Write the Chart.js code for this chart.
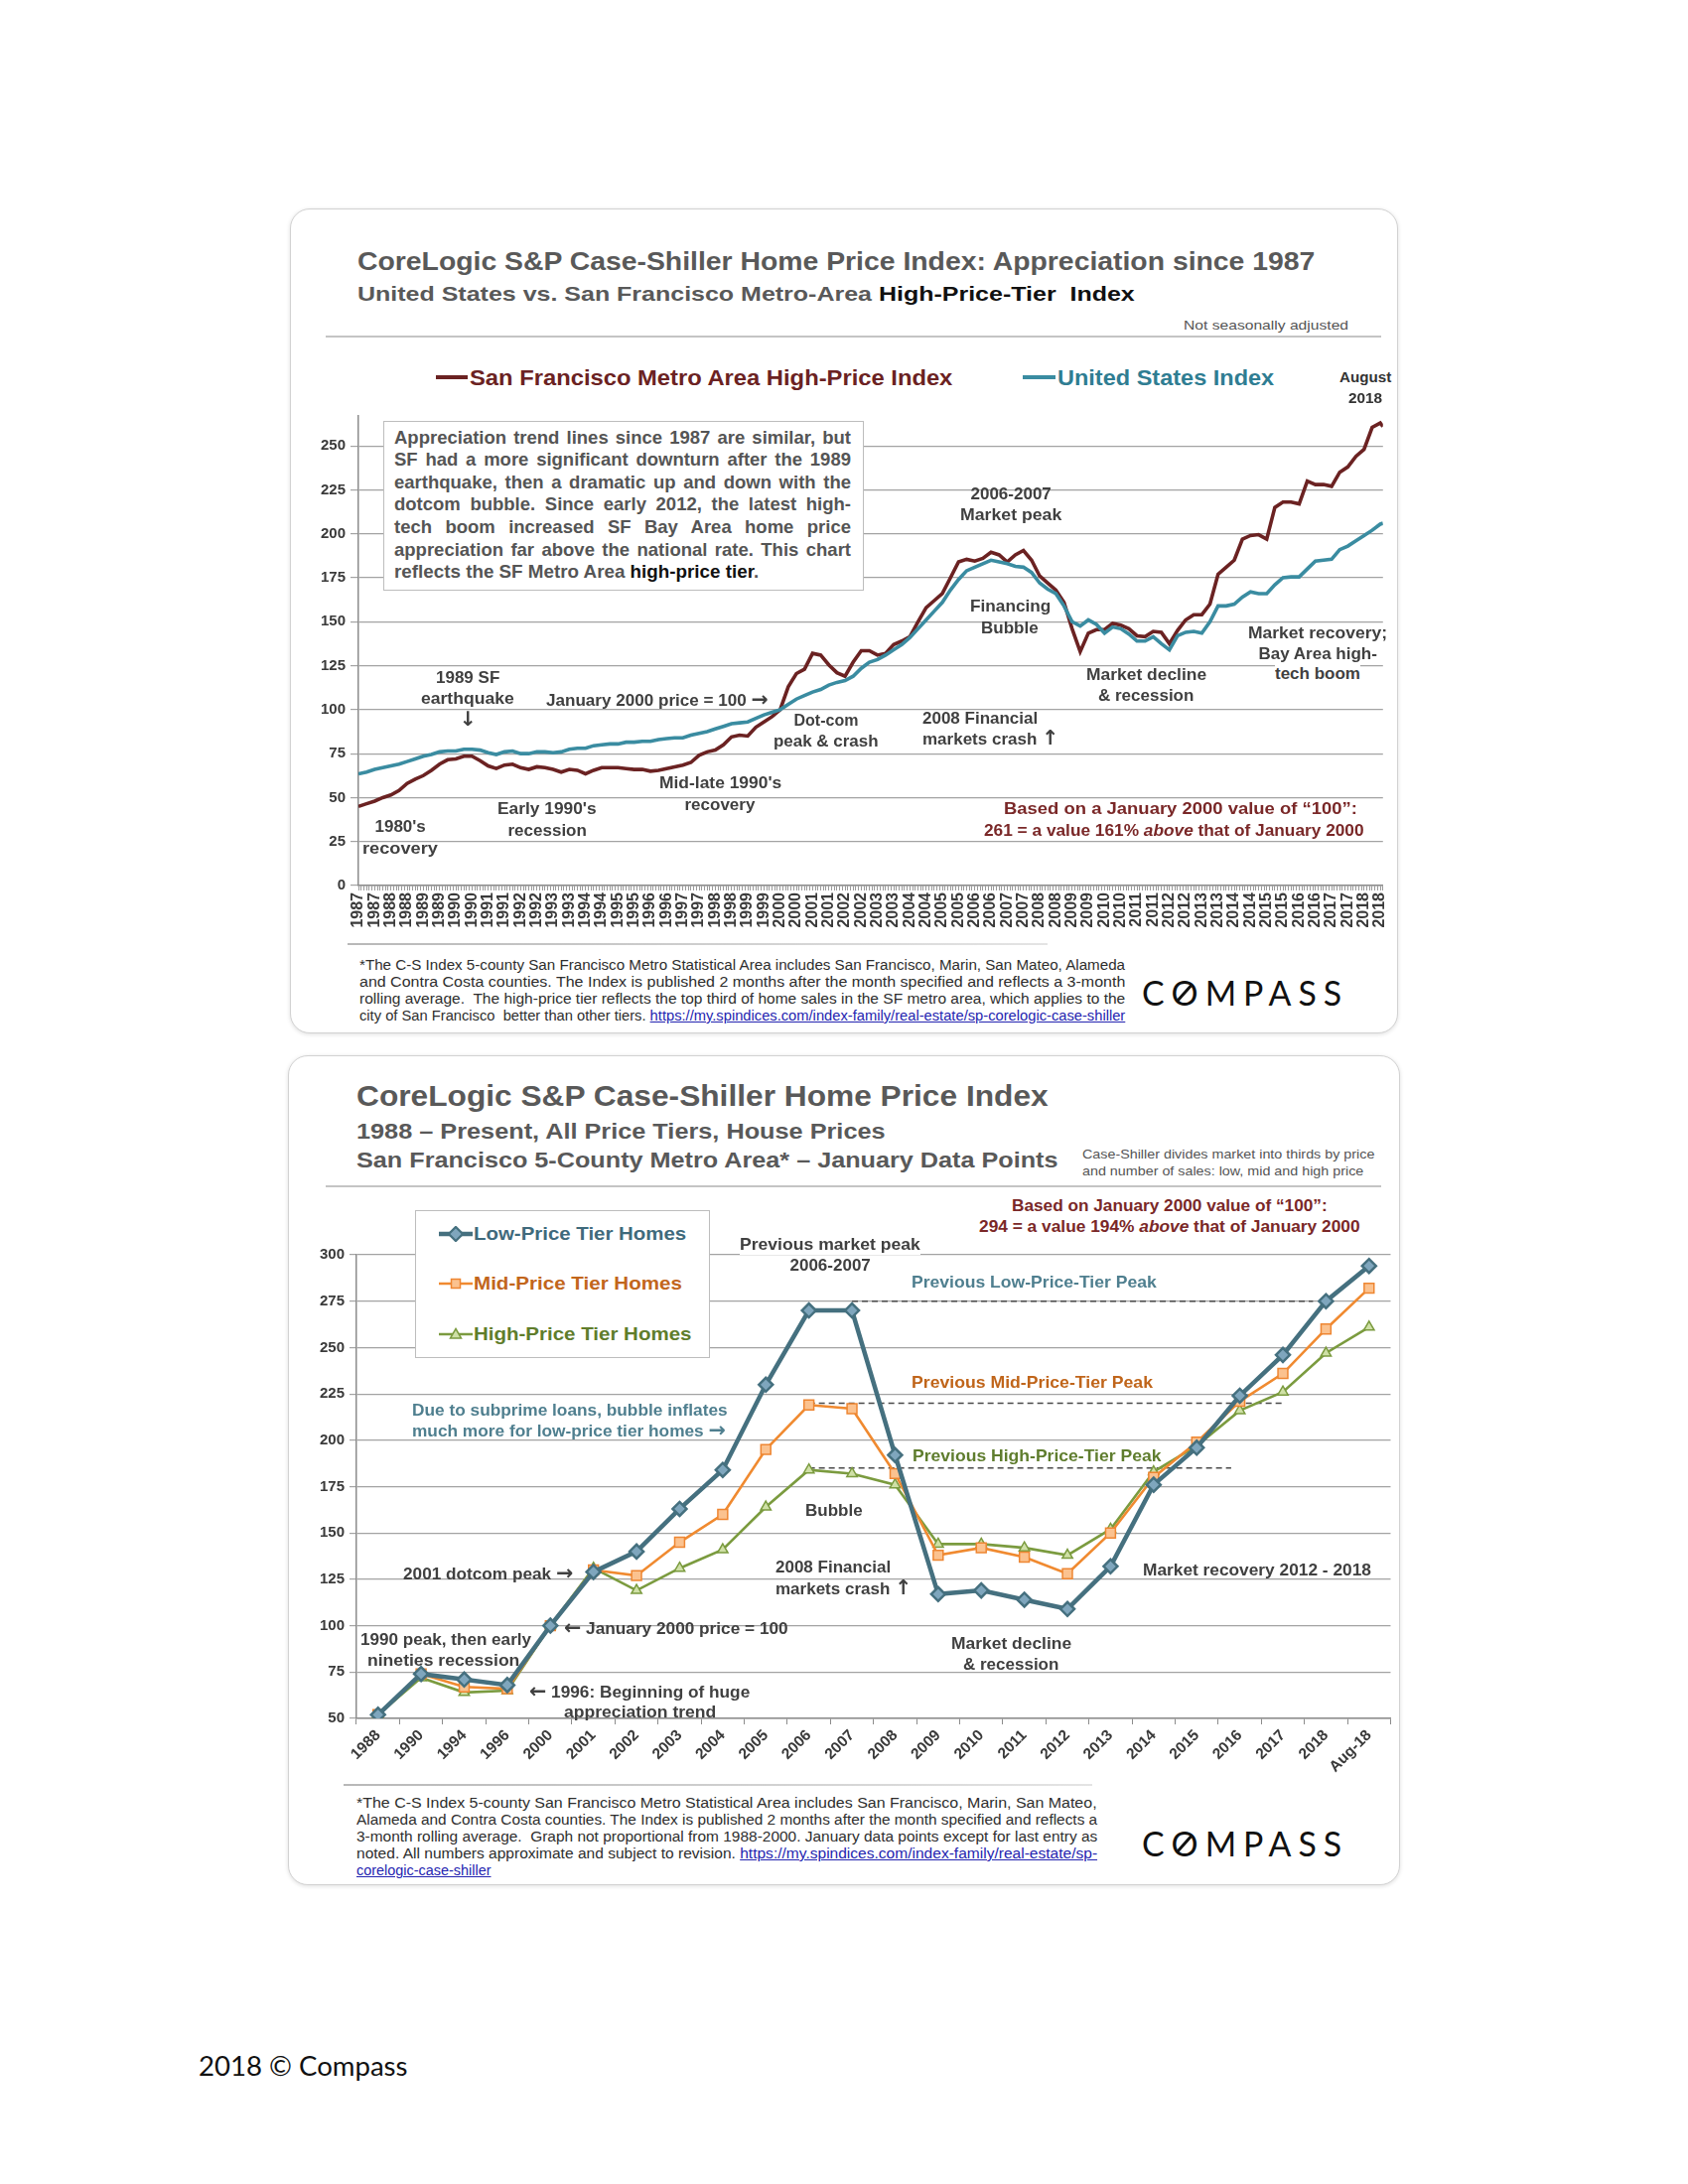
<!DOCTYPE html>
<html><head><meta charset="utf-8">
<script src="https://cdn.jsdelivr.net/npm/chart.js@4.4.1/dist/chart.umd.min.js"></script>
<style>
html,body{margin:0;padding:0;background:#fff;}
body{width:1700px;height:2200px;position:relative;overflow:hidden;font-family:"Liberation Sans",Arial,sans-serif;}
.panel{position:absolute;background:#fff;border:1.5px solid #d2d2d2;border-radius:20px;box-shadow:0 1px 4px rgba(0,0,0,0.13);box-sizing:border-box;}
canvas{position:absolute;z-index:1;}
.t{position:absolute;left:0;top:0;white-space:nowrap;line-height:1.15;font-weight:bold;color:#404040;font-size:17px;z-index:3;}
.title{color:#595959;font-size:26px;}
.sub{color:#595959;font-size:21px;}
.small{font-weight:normal;color:#555;font-size:13px;font-family:"Liberation Sans Narrow","Liberation Sans",sans-serif;}
.foot{font-weight:normal;color:#2e2e2e;font-size:14px;font-family:"Liberation Sans Narrow","Liberation Sans",sans-serif;}
.lnk{color:#2424b0;text-decoration:underline;}
.rule{position:absolute;height:2px;background:#c4c4c4;z-index:2;}
.box{position:absolute;background:#fff;border:1.2px solid #bdbdbd;box-sizing:border-box;z-index:2;}
.seg{position:absolute;height:4px;z-index:3;}
.logo{font-family:Lato,"Open Sans",sans-serif;font-weight:400;font-size:34px;letter-spacing:7px;color:#111;}
.logo .o{position:relative;display:inline-block;letter-spacing:0;margin-right:7px;}
.logo .o::after{content:"";position:absolute;left:50%;top:52%;width:2.6px;height:0.66em;background:#111;transform:translate(-50%,-50%) rotate(42deg);}
.tb{font-size:18.5px;color:#555;}
.maroon{color:#7a2828;}
.wbg{background:#fff;}
.ar{font-family:"DejaVu Sans",sans-serif;font-weight:bold;font-size:1.2em;line-height:1;}
</style>
</head>
<body>

<!-- ===== TOP PANEL ===== -->
<div class="panel" style="left:292px;top:210px;width:1116px;height:831px;"></div>
<div class="t title" data-x="360" data-y="264" data-a="l" data-w="964">CoreLogic S&amp;P Case-Shiller Home Price Index: Appreciation since 1987</div>
<div class="t sub" data-x="360" data-y="296" data-a="l" data-w="783">United States vs. San Francisco Metro-Area <span style="color:#111">High-Price-Tier&nbsp; Index</span></div>
<div class="rule" style="left:328px;top:338px;width:1063px;"></div>
<div class="t small" data-x="1358" data-y="328" data-a="r" data-w="166">Not seasonally adjusted</div>

<div class="seg" style="left:439px;top:378px;width:32px;background:#6b2222;"></div>
<div class="t" style="color:#6b2222;font-size:22px;" data-x="473" data-y="380" data-a="l" data-w="486">San Francisco Metro Area High-Price Index</div>
<div class="seg" style="left:1030px;top:378px;width:33px;background:#3a8ca1;"></div>
<div class="t" style="color:#2f7d92;font-size:22px;" data-x="1065" data-y="380" data-a="l" data-w="218">United States Index</div>
<div class="t" style="font-size:14px;color:#333;" data-x="1375" data-y="380" data-w="52">August</div>
<div class="t" style="font-size:14px;color:#333;" data-x="1375" data-y="401" data-w="34">2018</div>

<canvas id="topChart" width="1114" height="537" style="left:300px;top:405px;"></canvas>

<div class="box" style="left:386px;top:424px;width:484px;height:171px;"></div>
<div class="t tb" data-x="397" data-y="440" data-a="l" data-j="460">Appreciation trend lines since 1987 are similar, but</div>
<div class="t tb" data-x="397" data-y="462.6" data-a="l" data-j="460">SF had a more significant downturn after the 1989</div>
<div class="t tb" data-x="397" data-y="485.2" data-a="l" data-j="460">earthquake, then a dramatic up and down with the</div>
<div class="t tb" data-x="397" data-y="507.8" data-a="l" data-j="460">dotcom bubble. Since early 2012, the latest high-</div>
<div class="t tb" data-x="397" data-y="530.4" data-a="l" data-j="460">tech boom increased SF Bay Area home price</div>
<div class="t tb" data-x="397" data-y="553" data-a="l" data-j="460">appreciation far above the national rate. This chart</div>
<div class="t tb" data-x="397" data-y="575.6" data-a="l" data-w="367">reflects the SF Metro Area <span style="color:#111">high-price tier</span>.</div>

<div class="t" data-x="471" data-y="683">1989 SF</div>
<div class="t" data-x="471" data-y="704" data-w="94">earthquake</div>
<div class="t" data-x="471" data-y="725"><span class="ar">&#8595;</span></div>
<div class="t" data-x="662" data-y="705" data-w="224">January 2000 price = 100 <span class="ar">&#8594;</span></div>
<div class="t" data-x="832" data-y="726" style="font-size:16px;">Dot-com</div>
<div class="t" data-x="832" data-y="747" data-w="106" style="font-size:16px;">peak &amp; crash</div>
<div class="t" data-x="929" data-y="724" data-a="l">2008 Financial</div>
<div class="t" data-x="929" data-y="744" data-a="l" data-w="137">markets crash <span class="ar">&#8593;</span></div>
<div class="t" data-x="403" data-y="833">1980's</div>
<div class="t" data-x="403" data-y="855" data-w="76">recovery</div>
<div class="t" data-x="551" data-y="815" data-w="100">Early 1990's</div>
<div class="t" data-x="551" data-y="837">recession</div>
<div class="t" data-x="725" data-y="789" data-w="123">Mid-late 1990's</div>
<div class="t" data-x="725" data-y="811">recovery</div>
<div class="t" data-x="1018" data-y="498">2006-2007</div>
<div class="t" data-x="1018" data-y="519" data-w="102">Market peak</div>
<div class="t" data-x="1017" data-y="611" data-w="81">Financing</div>
<div class="t" data-x="1017" data-y="633">Bubble</div>
<div class="t" data-x="1154" data-y="680" data-w="121">Market decline</div>
<div class="t" data-x="1154" data-y="701">&amp; recession</div>
<div class="t wbg" data-x="1327" data-y="638" data-w="140">Market recovery;</div>
<div class="t wbg" data-x="1327" data-y="659">Bay Area high-</div>
<div class="t wbg" data-x="1327" data-y="679">tech boom</div>
<div class="t maroon" data-x="1189" data-y="815" data-w="356">Based on a January 2000 value of &#8220;100&#8221;:</div>
<div class="t maroon" data-x="1182" data-y="837" data-w="383">261 = a value 161% <i>above</i> that of January 2000</div>

<div class="rule" style="left:350px;top:950px;width:705px;background:linear-gradient(90deg,#b8b8b8,#e4e4e4);"></div>
<div class="t foot" data-x="362" data-y="972" data-a="l" data-w="771">*The C-S Index 5-county San Francisco Metro Statistical Area includes San Francisco, Marin, San Mateo, Alameda</div>
<div class="t foot" data-x="362" data-y="989" data-a="l" data-w="771">and Contra Costa counties. The Index is published 2 months after the month specified and reflects a 3-month</div>
<div class="t foot" data-x="362" data-y="1006" data-a="l" data-w="771">rolling average.&nbsp; The high-price tier reflects the top third of home sales in the SF metro area, which applies to the</div>
<div class="t foot" data-x="362" data-y="1023" data-a="l" data-w="771">city of San Francisco&nbsp; better than other tiers. <span class="lnk">https://my.spindices.com/index-family/real-estate/sp-corelogic-case-shiller</span></div>
<div class="t logo" data-x="1150" data-y="999" data-a="l" data-w="208">C<span class="o">O</span>MPASS</div>

<!-- ===== BOTTOM PANEL ===== -->
<div class="panel" style="left:290px;top:1063px;width:1120px;height:836px;"></div>
<div class="t title" style="font-size:30px;" data-x="359" data-y="1104" data-a="l" data-w="697">CoreLogic S&amp;P Case-Shiller Home Price Index</div>
<div class="t sub" style="font-size:22px;" data-x="359" data-y="1139" data-a="l" data-w="532">1988 &#8211; Present, All Price Tiers, House Prices</div>
<div class="t sub" style="font-size:22px;" data-x="359" data-y="1168" data-a="l" data-w="707">San Francisco 5-County Metro Area* &#8211; January Data Points</div>
<div class="t small" data-x="1090" data-y="1163" data-a="l" data-w="294">Case-Shiller divides market into thirds by price</div>
<div class="t small" data-x="1090" data-y="1180" data-a="l" data-w="283">and number of sales: low, mid and high price</div>
<div class="rule" style="left:328px;top:1194px;width:1063px;"></div>
<div class="t maroon" data-x="1178" data-y="1215" data-w="318">Based on January 2000 value of &#8220;100&#8221;:</div>
<div class="t maroon" data-x="1178" data-y="1236" data-w="384">294 = a value 194% <i>above</i> that of January 2000</div>

<canvas id="botChart" width="1110" height="539" style="left:300px;top:1250px;"></canvas>

<div class="box" style="left:418px;top:1219px;width:297px;height:149px;"></div>
<svg style="position:absolute;left:442px;top:1235px;z-index:3" width="34" height="16"><line x1="0" y1="8" x2="34" y2="8" stroke="#45707f" stroke-width="4.5"/><rect x="12" y="3" width="10" height="10" transform="rotate(45 17 8)" fill="#7fa6bd" stroke="#45707f" stroke-width="2.2"/></svg>
<div class="t" style="font-size:19px;color:#3f6a7c;" data-x="477" data-y="1243" data-a="l" data-w="214">Low-Price Tier Homes</div>
<svg style="position:absolute;left:442px;top:1285px;z-index:3" width="34" height="16"><line x1="0" y1="8" x2="34" y2="8" stroke="#f08a30" stroke-width="2.5"/><rect x="12.5" y="3.5" width="9" height="9" fill="#fbc28f" stroke="#ee8632" stroke-width="1.5"/></svg>
<div class="t" style="font-size:19px;color:#c2661c;" data-x="477" data-y="1293" data-a="l" data-w="210">Mid-Price Tier Homes</div>
<svg style="position:absolute;left:442px;top:1336px;z-index:3" width="34" height="16"><line x1="0" y1="8" x2="34" y2="8" stroke="#7b9b3f" stroke-width="2.5"/><polygon points="17,2.5 22.5,12 11.5,12" fill="#cfe0a6" stroke="#7b9b3f" stroke-width="1.5"/></svg>
<div class="t" style="font-size:19px;color:#5f7d2c;" data-x="477" data-y="1344" data-a="l" data-w="219">High-Price Tier Homes</div>

<div class="t wbg" data-x="836" data-y="1254" data-w="182">Previous market peak</div>
<div class="t" data-x="836" data-y="1275">2006-2007</div>
<div class="t" style="color:#4f7f8f;" data-x="1041" data-y="1292" data-w="247">Previous Low-Price-Tier Peak</div>
<div class="t" style="color:#c0651a;" data-x="1039" data-y="1393" data-w="243">Previous Mid-Price-Tier Peak</div>
<div class="t" style="color:#5f7d2e;" data-x="1044" data-y="1467" data-w="251">Previous High-Price-Tier Peak</div>
<div class="t" style="color:#4f7f8f;" data-x="415" data-y="1421" data-a="l" data-w="318">Due to subprime loans, bubble inflates</div>
<div class="t" style="color:#4f7f8f;" data-x="415" data-y="1441" data-a="l" data-w="316">much more for low-price tier homes <span class="ar">&#8594;</span></div>
<div class="t" data-x="840" data-y="1522">Bubble</div>
<div class="t" data-x="491" data-y="1585" data-w="171">2001 dotcom peak <span class="ar">&#8594;</span></div>
<div class="t" data-x="781" data-y="1579" data-a="l">2008 Financial</div>
<div class="t" data-x="781" data-y="1600" data-a="l" data-w="137">markets crash <span class="ar">&#8593;</span></div>
<div class="t" data-x="1266" data-y="1582" data-w="230">Market recovery 2012 - 2018</div>
<div class="t" data-x="568" data-y="1640" data-a="l" data-w="226"><span class="ar">&#8592;</span> January 2000 price = 100</div>
<div class="t" data-x="449" data-y="1652" data-w="172">1990 peak, then early</div>
<div class="t" data-x="446" data-y="1673" data-w="153">nineties recession</div>
<div class="t" data-x="1018" data-y="1656" data-w="121">Market decline</div>
<div class="t" data-x="1018" data-y="1677">&amp; recession</div>
<div class="t" data-x="533" data-y="1704" data-a="l" data-w="222"><span class="ar">&#8592;</span> 1996: Beginning of huge</div>
<div class="t" data-x="644" data-y="1725" data-w="153">appreciation trend</div>

<div class="rule" style="left:346px;top:1797px;width:754px;background:linear-gradient(90deg,#b8b8b8,#e4e4e4);"></div>
<div class="t foot" data-x="359" data-y="1816" data-a="l" data-w="746">*The C-S Index 5-county San Francisco Metro Statistical Area includes San Francisco, Marin, San Mateo,</div>
<div class="t foot" data-x="359" data-y="1833" data-a="l" data-w="746">Alameda and Contra Costa counties. The Index is published 2 months after the month specified and reflects a</div>
<div class="t foot" data-x="359" data-y="1850" data-a="l" data-w="746">3-month rolling average.&nbsp; Graph not proportional from 1988-2000. January data points except for last entry as</div>
<div class="t foot" data-x="359" data-y="1867" data-a="l" data-w="746">noted. All numbers approximate and subject to revision. <span class="lnk">https://my.spindices.com/index-family/real-estate/sp-</span></div>
<div class="t foot" data-x="359" data-y="1884" data-a="l" data-w="136"><span class="lnk">corelogic-case-shiller</span></div>
<div class="t logo" data-x="1150" data-y="1856" data-a="l" data-w="208">C<span class="o">O</span>MPASS</div>

<div class="t" style="font-family:Lato,'Open Sans',sans-serif;font-weight:400;font-size:26px;color:#111;" data-x="200" data-y="2082" data-a="l" data-w="211">2018 &#169; Compass</div>

<script>
// ---------- DATA: top chart (monthly index, sampled quarterly) ----------
const topDates = [
'1987-01','1987-04','1987-07','1987-10','1988-01','1988-04','1988-07','1988-10',
'1989-01','1989-04','1989-07','1989-10','1990-01','1990-04','1990-07','1990-10',
'1991-01','1991-04','1991-07','1991-10','1992-01','1992-04','1992-07','1992-10',
'1993-01','1993-04','1993-07','1993-10','1994-01','1994-04','1994-07','1994-10',
'1995-01','1995-04','1995-07','1995-10','1996-01','1996-04','1996-07','1996-10',
'1997-01','1997-04','1997-07','1997-10','1998-01','1998-04','1998-07','1998-10',
'1999-01','1999-04','1999-07','1999-10','2000-01','2000-04','2000-07','2000-10',
'2001-01','2001-04','2001-07','2001-10','2002-01','2002-04','2002-07','2002-10',
'2003-01','2003-04','2003-07','2003-10','2004-01','2004-04','2004-07','2004-10',
'2005-01','2005-04','2005-07','2005-10','2006-01','2006-04','2006-07','2006-10',
'2007-01','2007-04','2007-07','2007-10','2008-01','2008-04','2008-07','2008-10',
'2009-01','2009-04','2009-07','2009-10','2010-01','2010-04','2010-07','2010-10',
'2011-01','2011-04','2011-07','2011-10','2012-01','2012-04','2012-07','2012-10',
'2013-01','2013-04','2013-07','2013-10','2014-01','2014-04','2014-07','2014-10',
'2015-01','2015-04','2015-07','2015-10','2016-01','2016-04','2016-07','2016-10',
'2017-01','2017-04','2017-07','2017-10','2018-01','2018-04','2018-07','2018-08'
];
const sfValues = [
45,46.5,48,50,51.5,54,58,60.5,62.5,65.5,
69,71.5,72,73.5,73.5,71,68,66.5,68.5,69,
67,66,67.5,67,66,64.5,66,65.5,63.5,65.5,
67,67,67,66.5,66,66,65,65.5,66.5,67.5,
68.5,70,74,76,77,80,84.5,85.5,85,90,
93,96,100,113,120.5,123,132,131,125.5,121,
119,127,133.5,133.5,131,132,137,139,141.5,150,
158,162,166,175,184,185.5,184.5,186,189.5,188,
184,188,190.5,185,176,172,168,161,146,133,
143.5,145.5,145.5,149,148,146,142,141.5,144.5,144,
137.5,145,151,154,154,160,177,181,185,197,
199,199.5,197,215,218,218,217,230,228,228,
227,235,238,244,248,260.5,263,261
];
const usValues = [
63.5,64.5,66,67,68,69,70.5,72,73.5,74.5,
76,76.5,76.5,77.5,77.5,77,75.5,74.5,76,76.5,
75,75,76,76,75.5,76,77.5,78,78,79.5,
80,80.5,80.5,81.5,81.5,82,82,83,83.5,84,
84,85.5,86.5,87.5,89,90.5,92,92.5,93,95,
97,98.5,100,103,106,108,110,111.5,114,115.5,
116.5,119,123.5,127,128.5,131,134,137,141,146,
151,156,161,168,174,179,181,183,185,184,
183,181.5,181,178,172,168.5,166,159,150,147.5,
151,148.5,143.5,147,146,143,139,139,141.5,137.5,
134,142,144,144.5,143.5,150,159,159,160,164,
167,166,166,171,175,175.5,175.5,180,184.5,185,
185.5,191,193,196,199,202,205.5,206
];
const topTickLabels = [
'1987','1987','1988','1988','1989','1989','1990','1990','1991','1991','1992','1992',
'1993','1993','1994','1994','1995','1995','1996','1996','1997','1997','1998','1998',
'1999','1999','2000','2000','2001','2001','2002','2002','2003','2003','2004','2004',
'2005','2005','2006','2006','2007','2007','2008','2008','2009','2009','2010','2010',
'2011','2011','2012','2012','2013','2013','2014','2014','2015','2015','2016','2016',
'2017','2017','2018','2018'
];

// ---------- DATA: bottom chart (January data points) ----------
const categories = ['1988','1990','1994','1996','2000','2001','2002','2003','2004','2005','2006','2007','2008','2009','2010','2011','2012','2013','2014','2015','2016','2017','2018','Aug-18'];
const lowValues  = [52,74,71,68,100,129,140,163,184,230,270,270,192,117,119,114,109,132,176,196,224,246,275,294];
const midValues  = [52,74,67,66,100,130,127,145,160,195,219,217,182,138,142,137,128,150,180,199,221,236,260,282];
const highValues = [52,72,64,65,100,131,119,131,141,164,184,182,176,144,144,142,138,152,183,197,216,226,247,261];
// previous-peak reference levels and their spans (in category positions)
const peakLevels = [275, 220, 185];
const peakStart  = [11, 10, 10];
const peakEnd    = [21.7, 21, 19.8];

// ---------- text placement ----------
function placeAll(){
  document.querySelectorAll('[data-x]').forEach(el=>{
    const x=+el.dataset.x, y=+el.dataset.y, a=el.dataset.a||'c';
    const w=el.dataset.w?+el.dataset.w:0, j=el.dataset.j?+el.dataset.j:0;
    const nw=el.offsetWidth, nh=el.offsetHeight;
    let s=1, ew=nw;
    if(j){
      if(nw<=j){el.style.whiteSpace='normal';el.style.width=(j)+'px';el.style.textAlign='justify';el.style.textAlignLast='justify';ew=j;}
      else {s=j/nw;ew=j;}
    } else if(w){ s=w/nw; ew=w; }
    const left=a==='l'?x:(a==='r'?x-ew:x-ew/2);
    el.style.left=left+'px'; el.style.top=(y-nh/2)+'px';
    if(s!==1){el.style.transformOrigin='0 0';el.style.transform='scaleX('+s+')';}
  });
}
placeAll();

// ---------- charts ----------
const FONT = '"Liberation Sans", Arial, sans-serif';
const AX = '#8c8c8c', GRID = '#a3a3a3', TXT = '#3a3a3a';
function monthIndex(d){const p=d.split('-').map(Number);return (p[0]-1987)*12+(p[1]-1);}
const sfPts = topDates.map((d,i)=>({x:monthIndex(d),y:sfValues[i]}));
const usPts = topDates.map((d,i)=>({x:monthIndex(d),y:usValues[i]}));

new Chart(document.getElementById('topChart'),{
  type:'line',
  data:{datasets:[
    {label:'San Francisco Metro Area High-Price Index',data:sfPts,borderColor:'#6b2222',borderWidth:3.6,pointRadius:0,tension:0,order:1},
    {label:'United States Index',data:usPts,borderColor:'#3a8ca1',borderWidth:3.6,pointRadius:0,tension:0,order:0}
  ]},
  options:{
    responsive:false,animation:false,devicePixelRatio:1,events:[],
    layout:{padding:{top:10,right:14,left:0,bottom:0}},
    plugins:{legend:{display:false},tooltip:{enabled:false}},
    scales:{
      x:{type:'linear',min:0,max:379,
        ticks:{stepSize:1,autoSkip:false,maxTicksLimit:500,minRotation:90,maxRotation:90,padding:2,color:TXT,
          font:{family:FONT,size:16,weight:'bold'},
          callback:(v)=>{const r=Math.round(v);return r%6===0?(topTickLabels[r/6]||''):'';}},
        grid:{drawOnChartArea:false,drawTicks:true,tickLength:5,color:'#9a9a9a'},
        border:{display:true,color:AX,width:1.5},
        afterFit:s=>{s.height=50;}},
      y:{min:0,max:267,
        afterBuildTicks:s=>{s.ticks=s.ticks.filter(t=>Math.abs(t.value%25)<1e-6);},
        ticks:{stepSize:25,padding:5,color:TXT,font:{family:FONT,size:15,weight:'bold'}},
        grid:{color:GRID,lineWidth:1.2,tickLength:8},
        border:{display:true,color:AX,width:1.5},
        afterFit:s=>{s.width=61;}}
    }
  }
});

const dashSets = peakLevels.map((lv,i)=>({
  label:'peak'+i, xAxisID:'xr', data:[{x:peakStart[i],y:lv},{x:peakEnd[i],y:lv}],
  borderColor:'#4a4a4a',borderWidth:1.6,borderDash:[6,4],pointRadius:0,tension:0,order:5
}));

new Chart(document.getElementById('botChart'),{
  type:'line',
  data:{labels:categories,datasets:[
    {label:'Low-Price Tier Homes',data:lowValues,borderColor:'#45707f',borderWidth:4.5,tension:0,
      pointStyle:'rectRot',pointRadius:7,pointBackgroundColor:'#7fa6bd',pointBorderColor:'#45707f',pointBorderWidth:2.5,order:0},
    {label:'Mid-Price Tier Homes',data:midValues,borderColor:'#f08a30',borderWidth:2.6,tension:0,
      pointStyle:'rect',pointRadius:7,pointBackgroundColor:'#fbc28f',pointBorderColor:'#ee8632',pointBorderWidth:1.5,order:1},
    {label:'High-Price Tier Homes',data:highValues,borderColor:'#7b9b3f',borderWidth:2.6,tension:0,
      pointStyle:'triangle',pointRadius:6,pointBackgroundColor:'#cfe0a6',pointBorderColor:'#7b9b3f',pointBorderWidth:1.5,order:2},
    ...dashSets
  ]},
  options:{
    responsive:false,animation:false,devicePixelRatio:1,events:[],
    layout:{padding:{top:14,right:7,left:0,bottom:0}},
    plugins:{legend:{display:false},tooltip:{enabled:false}},
    scales:{
      x:{type:'category',offset:true,
        ticks:{autoSkip:false,minRotation:45,maxRotation:45,padding:2,color:TXT,font:{family:FONT,size:15.5,weight:'bold'}},
        grid:{offset:true,drawOnChartArea:false,drawTicks:true,tickLength:6,color:AX},
        border:{display:true,color:AX,width:1.5},
        afterFit:s=>{s.height=58;}},
      xr:{type:'linear',display:false,min:-0.5,max:23.5},
      y:{min:50,max:300,
        ticks:{stepSize:25,padding:5,color:TXT,font:{family:FONT,size:15,weight:'bold'}},
        grid:{color:GRID,lineWidth:1.2,tickLength:7},
        border:{display:true,color:AX,width:1.5},
        afterFit:s=>{s.width=59;}}
    }
  }
});
</script>
</body></html>
